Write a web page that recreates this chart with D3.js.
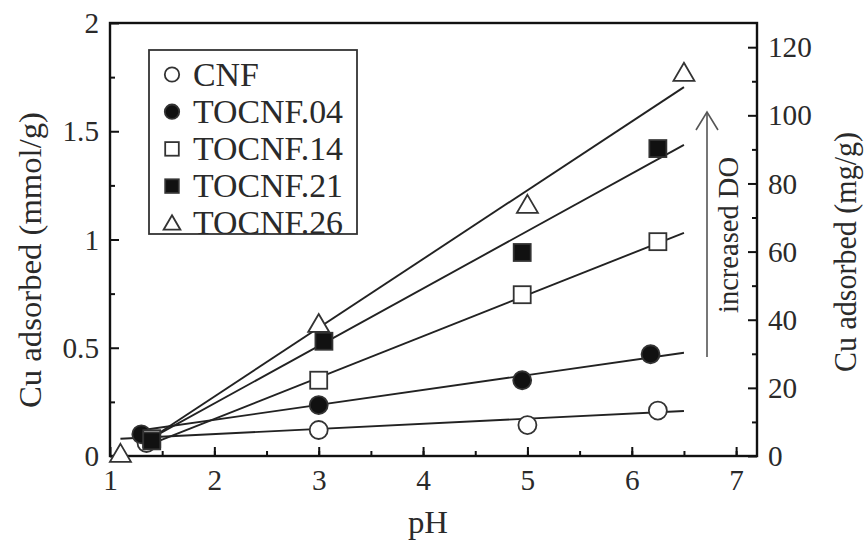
<!DOCTYPE html>
<html><head><meta charset="utf-8">
<script src="https://cdn.jsdelivr.net/npm/d3@7"></script>
<style>body{margin:0;background:#fff}svg{display:block}</style>
</head><body><svg id="c" width="864" height="542"></svg>
<script>
const seriesNames = ["CNF","TOCNF.04","TOCNF.14","TOCNF.21","TOCNF.26"];
const seriesSymbols = ["circle","circle","square","square","triangle"];
const seriesFilled = [false,true,false,true,false];
const phCNF = [1.35,3.0,5.0,6.25];      const cuCNF = [0.06,0.12,0.143,0.21];
const ph04 = [1.3,3.0,4.95,6.18];       const cu04 = [0.10,0.235,0.35,0.47];
const ph14 = [1.4,3.0,4.95,6.25];       const cu14 = [0.08,0.35,0.745,0.99];
const ph21 = [1.4,3.05,4.95,6.25];      const cu21 = [0.07,0.53,0.94,1.42];
const ph26 = [1.1,3.0,5.0,6.5];         const cu26 = [0.01,0.61,1.16,1.77];
// fitted lines: [start pH, end pH], [start value, end value]
const fitPH = [[1.1,6.5],[1.3,6.5],[1.3,6.5],[1.3,6.5],[1.3,6.5]];
const fitCu = [[0.08,0.208],[0.119,0.477],[0.037,1.031],[0.057,1.437],[0.052,1.704]];
const xTicks = [1,2,3,4,5,6,7];
const yTicks = [0,0.5,1,1.5,2];
const yTickLabels = ["0","0.5","1","1.5","2"];
const y2Ticks = [0,20,40,60,80,100,120];
const mgPerMmol = 63.55;

const svg = d3.select("#c");
const x = d3.scaleLinear().domain([1,7.2]).range([110,757]);
const y = d3.scaleLinear().domain([0,2]).range([456,23]);
const y2 = d3.scaleLinear().domain([0,2*mgPerMmol]).range([456,23]);
const font = "'Liberation Serif','Times New Roman',Times,serif";
const tc = "#2a2a2a";

const probe = svg.append("text").attr("font-family",font).attr("font-size",33).text("TOCNF.04");
const f = 150 / probe.node().getComputedTextLength();
probe.remove();
function stretch(sel,k){
  sel.each(function(){ const L=this.getComputedTextLength(); d3.select(this).attr("textLength",L*(k||f)).attr("lengthAdjust","spacingAndGlyphs"); });
}

// axes
svg.append("g").attr("transform","translate(0,456)")
  .call(d3.axisBottom(x).tickValues(d3.range(1.5,7.2,0.5)).tickSize(-5).tickFormat(""));
const gx = svg.append("g").attr("transform","translate(0,456)")
  .call(d3.axisBottom(x).tickValues(xTicks).tickSize(-9).tickPadding(12).tickFormat(d3.format("d")));
svg.append("g").attr("transform","translate(110,0)")
  .call(d3.axisLeft(y).tickValues(d3.range(0.25,2,0.5)).tickSize(-5).tickFormat(""));
const gy = svg.append("g").attr("transform","translate(110,0)")
  .call(d3.axisLeft(y).tickValues(yTicks).tickSize(-9).tickPadding(11).tickFormat((d,i)=>yTickLabels[i]));
svg.append("g").attr("transform","translate(757,0)")
  .call(d3.axisRight(y2).tickValues(d3.range(10,121,20)).tickSize(-5).tickFormat(""));
const gy2 = svg.append("g").attr("transform","translate(757,0)")
  .call(d3.axisRight(y2).tickValues(y2Ticks).tickSize(-9).tickPadding(11).tickFormat(d3.format("d")));
svg.selectAll(".domain").remove();
svg.selectAll(".tick line").attr("stroke","#111").attr("stroke-width",2);
svg.selectAll(".tick text").attr("font-family",font).attr("font-size",30).attr("fill",tc);
gx.selectAll(".tick text").attr("dy","0.72em");
stretch(svg.selectAll(".tick text"), f*0.95);

// frame
svg.append("rect").attr("x",x(1)).attr("y",y(2)).attr("width",x(7.2)-x(1)).attr("height",y(0)-y(2))
  .attr("fill","none").attr("stroke","#111").attr("stroke-width",2.4);

// fit lines
const allPH=[phCNF,ph04,ph14,ph21,ph26], allCu=[cuCNF,cu04,cu14,cu21,cu26];
seriesNames.forEach((n,i)=>{
  svg.append("line").attr("x1",x(fitPH[i][0])).attr("x2",x(fitPH[i][1]))
    .attr("y1",y(fitCu[i][0])).attr("y2",y(fitCu[i][1]))
    .attr("stroke","#222").attr("stroke-width",1.9);
});

function sym(g,type,filled,cx,cy,s){
  const fill = filled?"#111":"#fff", st="#333", sw=1.8;
  if(type==="circle") g.append("circle").attr("cx",cx).attr("cy",cy).attr("r",9*s).attr("fill",fill).attr("stroke",st).attr("stroke-width",sw);
  else if(type==="square") g.append("rect").attr("x",cx-8.5*s).attr("y",cy-8.5*s).attr("width",17*s).attr("height",17*s).attr("fill",fill).attr("stroke",st).attr("stroke-width",sw);
  else g.append("path").attr("d",`M${cx},${cy-10*s}L${cx+10.5*s},${cy+8*s}L${cx-10.5*s},${cy+8*s}Z`).attr("fill",fill).attr("stroke",st).attr("stroke-width",sw);
}
const gp = svg.append("g");
[0,1,2,4,3].forEach(i=>{
  allPH[i].forEach((p,j)=>sym(gp,seriesSymbols[i],seriesFilled[i],x(p),y(allCu[i][j]),1));
});

// legend
svg.append("rect").attr("x",149).attr("y",50).attr("width",208).attr("height",184)
  .attr("fill","#fff").attr("stroke","#333").attr("stroke-width",1.8);
const legTexts = [];
seriesNames.forEach((n,i)=>{
  const cy = 74.5 + i*37.2;
  sym(svg,seriesSymbols[i],seriesFilled[i],172,cy,0.8);
  legTexts.push(svg.append("text").attr("x",193).attr("y",cy+11).attr("font-family",font).attr("font-size",33).attr("fill",tc).text(n).node());
});
stretch(d3.selectAll(legTexts));

// arrow
svg.append("line").attr("x1",707).attr("x2",707).attr("y1",357).attr("y2",112).attr("stroke","#555").attr("stroke-width",1.6);
svg.append("path").attr("d","M696,130L707,112L718,130").attr("fill","none").attr("stroke","#555").attr("stroke-width",1.6);
svg.append("text").attr("transform","translate(738,235) rotate(-90)").attr("text-anchor","middle")
  .attr("font-family",font).attr("font-size",29).attr("fill",tc).attr("textLength",156).attr("lengthAdjust","spacingAndGlyphs").text("increased DO");

// titles
const ph = svg.append("text").attr("x",428).attr("y",533).attr("text-anchor","middle").attr("font-family",font).attr("font-size",32).attr("fill",tc).text("pH");
stretch(ph);
svg.append("text").attr("transform","translate(41,260) rotate(-90)").attr("text-anchor","middle").attr("font-family",font).attr("font-size",32).attr("fill",tc)
  .attr("textLength",296).attr("lengthAdjust","spacingAndGlyphs").text("Cu adsorbed (mmol/g)");
svg.append("text").attr("transform","translate(856,252) rotate(-90)").attr("text-anchor","middle").attr("font-family",font).attr("font-size",32).attr("fill",tc)
  .attr("textLength",240).attr("lengthAdjust","spacingAndGlyphs").text("Cu adsorbed (mg/g)");
</script></body></html>
